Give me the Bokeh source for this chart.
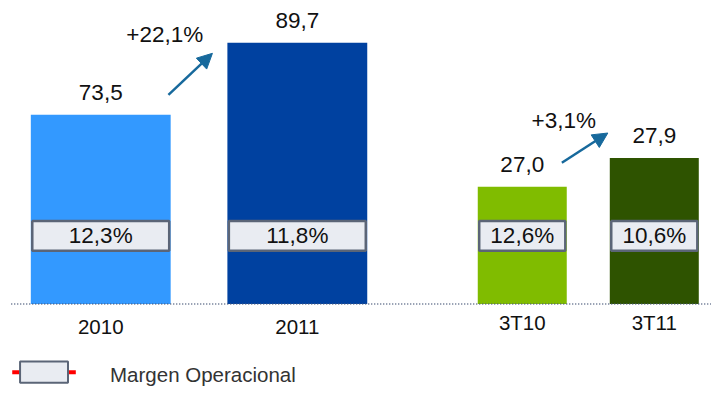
from bokeh.plotting import figure
from bokeh.models import Range1d, Arrow, NormalHead
from bokeh.core.properties import value
from bokeh.embed import file_html
from bokeh.resources import INLINE

# ---------------- data ----------------
years = ["2010", "2011"]
annual_values = [73.5, 89.7]
annual_labels = ["73,5", "89,7"]
annual_margins = ["12,3%", "11,8%"]
annual_growth = "+22,1%"

quarters = ["3T10", "3T11"]
quarter_values = [27.0, 27.9]
quarter_labels = ["27,0", "27,9"]
quarter_margins = ["12,6%", "10,6%"]
quarter_growth = "+3,1%"

legend_label = "Margen Operacional"

# ---------------- layout / style ----------------
# layout is designed on a 727x403 canvas (top-down pixels) and scaled to the figure
REF_W, REF_H = 727.0, 403.0
W, H = 711, 387
SX, SY = W / REF_W, H / REF_H

def fx(rx):
    return rx * SX

def fy(ry):
    return H - ry * SY

BASE_R = 316.0      # baseline
BOX_ROW_R = 245.0   # margin boxes row
FONT = "Liberation Sans"
BOX_FILL = "#E9ECF2"
BOX_LINE = "#5B6577"
ARROW_COLOR = "#17699C"
TEXT = "#111111"

groups = [
    dict(name="anual", cats=years, vals=annual_values, labels=annual_labels,
         margins=annual_margins, growth=annual_growth,
         colors=["#3399FF", "#0041A0"],
         c0=102.5, step=201.0, bw=143.0, base=30.95, ppu=4.6296, cat_y=340.5,
         growth_at=(168, 35), arrow=((171.7, 98.3), (216.7, 55.0))),
    dict(name="tri", cats=quarters, vals=quarter_values, labels=quarter_labels,
         margins=quarter_margins, growth=quarter_growth,
         colors=["#80BC00", "#2E5300"],
         c0=533.5, step=135.0, bw=91.0, base=23.34, ppu=33.333, cat_y=335.5,
         growth_at=(576, 125), arrow=((574.0, 169.0), (621.0, 138.0))),
]

p = figure(width=W, height=H, x_range=Range1d(0, W), y_range=Range1d(0, H),
           x_axis_type=None, y_axis_type=None, output_backend="svg",
           toolbar_location=None, min_border=0)
p.grid.visible = False
p.outline_line_color = None
p.background_fill_color = "white"
p.border_fill_color = "white"

for g in groups:
    n = g["name"]
    step_f = g["step"] * SX
    c0_f = g["c0"] * SX
    ppu_f = g["ppu"] * SY
    base_f = fy(BASE_R)
    p.extra_x_ranges[n] = Range1d(-c0_f / step_f, (W - c0_f) / step_f)
    p.extra_y_ranges[n] = Range1d(g["base"] - base_f / ppu_f,
                                  g["base"] + (H - base_f) / ppu_f)
    idx = list(range(len(g["cats"])))

    def to_data(pt, g=g):
        rx, ry = pt
        return (rx - g["c0"]) / g["step"], g["base"] + (BASE_R - ry) / g["ppu"]

    # bars
    p.vbar(x=idx, top=g["vals"], bottom=g["base"], width=g["bw"] / g["step"],
           fill_color=g["colors"], line_color=None,
           x_range_name=n, y_range_name=n)

    # value labels
    p.text(x=idx, y=g["vals"], text=g["labels"], text_align="center",
           text_baseline="middle", y_offset=-23 * SY, text_font=value(FONT),
           text_font_size="22.5px", text_color=TEXT,
           x_range_name=n, y_range_name=n)

    # margin boxes
    row = [fy(BOX_ROW_R)] * len(idx)
    p.rect(x=idx, y=row, width=(g["bw"] - 3) / g["step"],
           height=31 * SY, height_units="screen", fill_color=BOX_FILL,
           line_color=BOX_LINE, line_width=2.5, x_range_name=n)
    p.text(x=idx, y=row, text=g["margins"], text_align="center",
           text_baseline="middle", text_font=value(FONT), text_font_size="22.5px",
           text_color=TEXT, x_range_name=n)

    # category labels
    p.text(x=idx, y=[fy(g["cat_y"])] * len(idx), text=g["cats"], text_align="center",
           text_baseline="middle", text_font=value(FONT), text_font_size="20.5px",
           text_color=TEXT, x_range_name=n)

    # growth arrow and label
    (xs, ys), (xe, ye) = to_data(g["arrow"][0]), to_data(g["arrow"][1])
    p.add_layout(Arrow(x_start=xs, y_start=ys, x_end=xe, y_end=ye,
                       line_color=ARROW_COLOR, line_width=2.5,
                       end=NormalHead(size=15, fill_color=ARROW_COLOR,
                                      line_color=ARROW_COLOR),
                       x_range_name=n, y_range_name=n))
    gx, gy = to_data(g["growth_at"])
    p.text(x=[gx], y=[gy], text=[g["growth"]], text_align="center",
           text_baseline="middle", text_font=value(FONT), text_font_size="22.5px",
           text_color=TEXT, x_range_name=n, y_range_name=n)

# dotted baseline
p.line(x=[fx(11), W], y=[fy(BASE_R), fy(BASE_R)], line_color="#4A5A7A",
       line_width=1.5, line_dash="1 2")

# legend
ly = fy(387)
p.line(x=[fx(12), fx(77)], y=[ly, ly], line_color="#FF0000", line_width=4)
p.rect(x=[fx(44.5)], y=[ly], width=49 * SX, height=22 * SY, fill_color=BOX_FILL,
       line_color=BOX_LINE, line_width=2)
p.text(x=[fx(112)], y=[fy(389)], text=[legend_label], text_align="left",
       text_baseline="middle", text_font=value(FONT), text_font_size="20.5px",
       text_color="#333333")

open("out.html", "w").write(file_html(p, INLINE))
